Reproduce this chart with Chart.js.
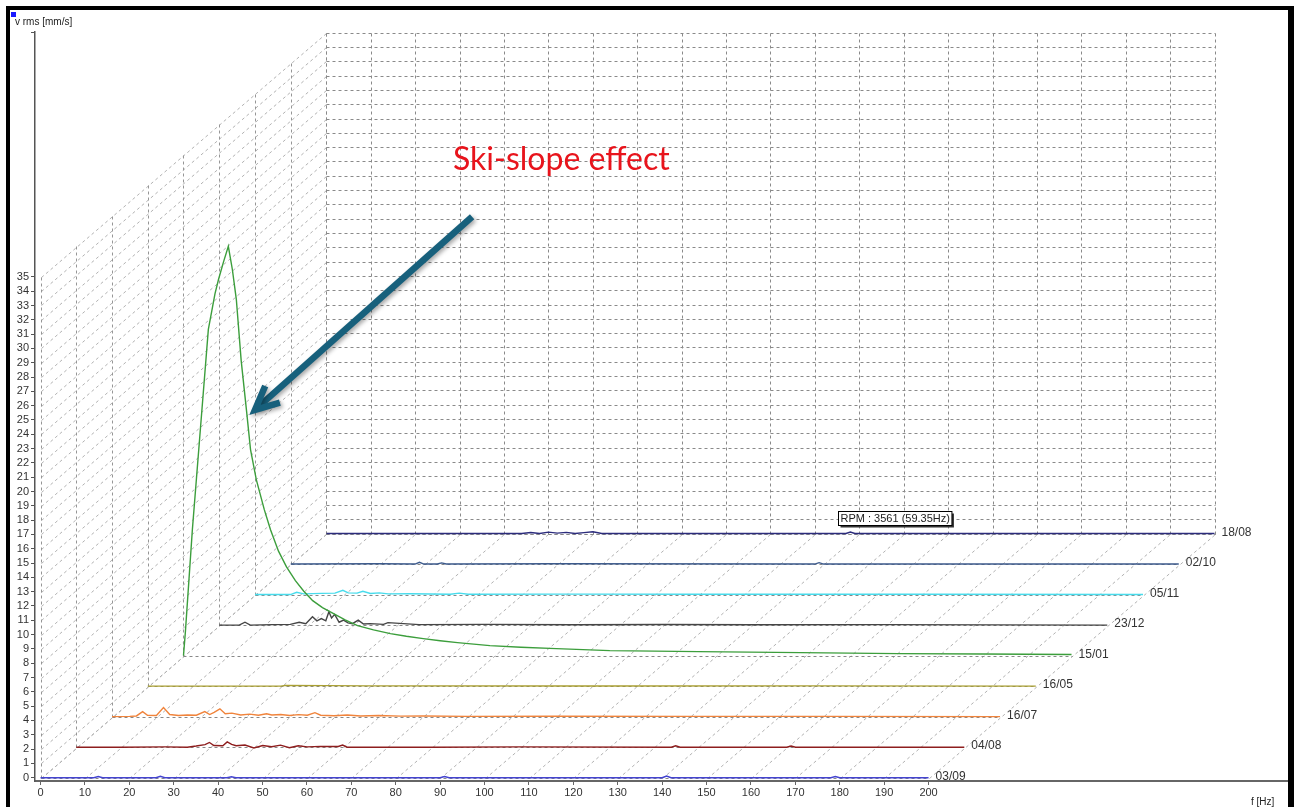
<!DOCTYPE html>
<html>
<head>
<meta charset="utf-8">
<title>Waterfall spectrum - ski-slope effect</title>
<script src="https://cdn.jsdelivr.net/npm/chart.js@4.4.0/dist/chart.umd.min.js"></script>
<style>
  html, body { margin: 0; padding: 0; background: #fff; }
  #wrap { width: 1294px; height: 807px; position: relative; }
</style>
</head>
<body>
<div id="wrap"><canvas id="waterfall" width="1294" height="807"></canvas></div>
<script>
// Measurement dates, front row first
const dates = ['03/09', '04/08', '16/07', '16/05', '15/01', '23/12', '05/11', '02/10', '18/08'];

// Axis ticks
const xTicks = [0, 10, 20, 30, 40, 50, 60, 70, 80, 90, 100, 110, 120, 130, 140, 150, 160, 170, 180, 190, 200];
const yTicks = [0, 1, 2, 3, 4, 5, 6, 7, 8, 9, 10, 11, 12, 13, 14, 15, 16, 17, 18, 19, 20,
                21, 22, 23, 24, 25, 26, 27, 28, 29, 30, 31, 32, 33, 34, 35];

// Spectra: frequency [Hz] / velocity rms [mm/s]
const freq0309 = [0, 12, 13, 14, 26, 27, 28, 42, 43, 44, 90, 91, 92, 140, 141, 142, 178, 179, 180, 200];
const vel0309  = [0, 0, 0.08, 0, 0, 0.1, 0, 0, 0.07, 0, 0, 0.08, 0, 0, 0.12, 0, 0, 0.08, 0, 0];

const freq0408 = [0, 10, 20, 25, 27, 29, 30, 31, 33, 34, 35, 36, 38, 40, 42, 44, 46, 48, 50, 52, 55, 59, 60, 61, 80, 100, 134, 135, 136, 160, 161, 162, 200];
const vel0408  = [0, 0, 0.02, 0, 0.08, 0.18, 0.33, 0.12, 0.1, 0.37, 0.2, 0.1, 0.15, -0.05, 0.12, 0.03, 0.14, -0.04, 0.1, 0.02, 0.06, 0.05, 0.15, 0, 0, 0.02, 0, 0.1, 0, 0, 0.08, 0, 0];

const freq1607 = [0, 4, 5.5, 6.9, 8, 10, 11.6, 13, 15, 17, 19, 20.9, 22, 23, 24.3, 25.5, 27, 29, 31, 33, 34.8, 36, 38, 40, 42, 44, 45.7, 47, 50, 53, 56, 60, 65, 70, 80, 100, 130, 160, 200];
const vel1607  = [0, 0.02, 0.05, 0.35, 0.1, 0.08, 0.63, 0.15, 0.08, 0.12, 0.1, 0.35, 0.15, 0.3, 0.55, 0.2, 0.25, 0.12, 0.18, 0.1, 0.2, 0.12, 0.15, 0.08, 0.14, 0.1, 0.28, 0.1, 0.06, 0.12, 0.05, 0.08, 0.04, 0.05, 0.02, 0.03, 0.02, 0.02, 0];

const freq1605 = [0, 30, 31, 50, 100, 150, 200];
const vel1605  = [0, 0, 0.05, 0.02, 0.01, 0.02, 0];

const freq1501 = [0, 0.45, 2.0, 3.8, 5.6, 7.1, 7.9, 9.0, 10.1, 11.0, 11.9, 13.0, 14.2, 15.1, 16.4, 18.2, 19.6, 21.4, 23.2, 25.2, 27.1, 29.1, 31.3, 33.8, 36.4, 39.2, 42.8, 46.6, 50.2, 54, 57.8, 61.7, 69, 76, 84, 96, 116, 139, 161, 180, 200];
const vel1501  = [0, 1.75, 8.8, 15.8, 22.8, 25.3, 26.3, 27.5, 28.6, 27.0, 24.9, 20.6, 17.1, 14.4, 12.3, 10.2, 8.8, 7.3, 6.2, 5.24, 4.5, 3.84, 3.35, 2.94, 2.5, 2.1, 1.8, 1.54, 1.35, 1.19, 1.04, 0.91, 0.70, 0.58, 0.49, 0.35, 0.28, 0.21, 0.14, 0.11, 0.08];

const freq2312 = [0, 4.5, 5.8, 7, 12, 16, 18, 19.5, 21, 22, 23, 24, 24.7, 25.3, 26, 27, 28, 29, 30, 31.3, 32.5, 34, 37, 38, 45, 60, 80, 100, 120, 150, 200];
const vel2312  = [0, 0, 0.2, 0, 0.03, 0.05, 0.2, 0.1, 0.58, 0.3, 0.45, 0.3, 0.93, 0.5, 0.75, 0.2, 0.35, 0.15, 0.1, 0.35, 0.08, 0.1, 0.05, 0.17, 0.03, 0.05, 0.02, 0.04, 0.02, 0.03, 0];

const freq0511 = [0, 8, 9.4, 11, 15, 18, 19.8, 21, 23, 24.3, 26, 28, 30, 35, 44, 46, 48, 70, 100, 150, 200];
const vel0511  = [0, 0, 0.16, 0.05, 0.08, 0.1, 0.3, 0.12, 0.1, 0.23, 0.08, 0.12, 0.05, 0.06, 0.02, 0.1, 0.02, 0.03, 0.02, 0.02, 0];

const freq0210 = [0, 20, 28, 29, 30, 33, 34, 35, 60, 118, 119, 120, 200];
const vel0210  = [0, 0.02, 0, 0.12, 0, 0, 0.08, 0, 0.02, 0, 0.1, 0, 0];

const freq1808 = [0, 44, 46, 48, 50, 52, 54, 56, 58, 60, 62, 117, 118, 119, 200];
const vel1808  = [0, 0, 0.07, 0, 0.1, 0.03, 0.08, 0, 0.06, 0.12, 0, 0, 0.1, 0, 0];

const spectra = [
    [freq0309, vel0309], [freq0408, vel0408], [freq1607, vel1607],
    [freq1605, vel1605], [freq1501, vel1501], [freq2312, vel2312],
    [freq0511, vel0511], [freq0210, vel0210], [freq1808, vel1808]
];
const lineColors = ['#4444d0', '#8e1e1e', '#f0843c', '#aaa032', '#3c9e3c', '#454545', '#48dcec', '#3c5a8c', '#2c2c7c'];

// Pseudo-3D depth step between rows, in axis units
const DEPTH_DX = 8.05;   // Hz
const DEPTH_DY = 2.133;  // mm/s
const WALL_TOP = 35;

const datasets = dates.map((d, k) => {
    const [f, v] = spectra[k];
    return {
        label: d,
        data: f.map((fv, i) => ({ x: fv + k * DEPTH_DX, y: v[i] + k * DEPTH_DY })),
        borderColor: lineColors[k],
        borderWidth: 1.4,
        pointRadius: 0,
        tension: 0,
        fill: false
    };
});

// Dashed floor / wall / back plane grid
const waterfallGrid = {
    id: 'waterfallGrid',
    beforeDatasetsDraw(chart) {
        const { ctx, scales: { x, y } } = chart;
        const px = v => Math.round(x.getPixelForValue(v)) + 0.5;
        const py = v => Math.round(y.getPixelForValue(v)) + 0.5;
        const seg = (x1, y1, x2, y2) => { ctx.moveTo(px(x1), py(y1)); ctx.lineTo(px(x2), py(y2)); };
        const back = dates.length - 1;
        const bx = back * DEPTH_DX, by = back * DEPTH_DY;

        ctx.save();
        ctx.lineWidth = 1;
        ctx.setLineDash([3, 3]);

        // floor and left wall diagonals
        ctx.strokeStyle = '#b2b2b2';
        ctx.beginPath();
        xTicks.forEach(f => seg(f, 0, f + bx, by));
        yTicks.forEach(v => seg(0, v, bx, v + by));
        ctx.stroke();

        // left wall verticals, one per row
        ctx.strokeStyle = '#969696';
        ctx.beginPath();
        dates.forEach((d, k) => seg(k * DEPTH_DX, k * DEPTH_DY, k * DEPTH_DX, WALL_TOP + k * DEPTH_DY));
        ctx.stroke();

        // back plane
        ctx.strokeStyle = '#8a8a8a';
        ctx.beginPath();
        xTicks.forEach(f => seg(f + bx, by, f + bx, WALL_TOP + by));
        yTicks.forEach(v => seg(bx, v + by, 200 + bx, v + by));
        ctx.stroke();

        // row baselines
        ctx.strokeStyle = '#888';
        ctx.beginPath();
        dates.forEach((d, k) => seg(k * DEPTH_DX, k * DEPTH_DY, 200 + k * DEPTH_DX, k * DEPTH_DY));
        ctx.stroke();
        ctx.restore();
    },
    afterDatasetsDraw(chart) {
        const { ctx, scales: { x, y } } = chart;
        const px = v => x.getPixelForValue(v);
        const py = v => y.getPixelForValue(v);
        ctx.save();

        // row labels
        ctx.font = '12px "Liberation Sans", Arial, sans-serif';
        ctx.fillStyle = '#333';
        ctx.textBaseline = 'middle';
        ctx.textAlign = 'left';
        dates.forEach((d, k) => {
            ctx.fillText(d, px(200 + k * DEPTH_DX) + 7, py(k * DEPTH_DY) - 1);
        });

        // RPM marker box
        const rpmText = 'RPM : 3561 (59.35Hz)';
        ctx.font = '11px "Liberation Sans", Arial, sans-serif';
        const tw = ctx.measureText(rpmText).width;
        const bxp = Math.round(px(179.6)) + 0.5, byp = Math.round(py(18.64)) + 0.5;
        ctx.fillStyle = '#333';
        ctx.fillRect(bxp + 2, byp + 2, tw + 4, 14);
        ctx.fillStyle = '#fff';
        ctx.fillRect(bxp, byp, tw + 4, 14);
        ctx.strokeStyle = '#000';
        ctx.lineWidth = 1;
        ctx.strokeRect(bxp, byp, tw + 4, 14);
        ctx.fillStyle = '#222';
        ctx.fillText(rpmText, bxp + 2, byp + 7.5);

        // annotation text
        ctx.font = '32px Lato, "Open Sans", sans-serif';
        ctx.fillStyle = '#e8141c';
        ctx.textBaseline = 'alphabetic';
        ctx.fillText('Ski-slope effect', px(92.9), py(42.47));

        // annotation arrow
        const x1 = px(97.2), y1 = py(39.2), x2 = px(48.3), y2 = py(25.7);
        const ang = Math.atan2(y1 - y2, x1 - x2);
        const head = 26, spread = 0.44;
        ctx.shadowColor = 'rgba(0,0,0,0.35)';
        ctx.shadowBlur = 4;
        ctx.shadowOffsetX = 2;
        ctx.shadowOffsetY = 2;
        ctx.strokeStyle = '#17607c';
        ctx.lineWidth = 6.5;
        ctx.lineCap = 'butt';
        ctx.lineJoin = 'miter';
        ctx.beginPath();
        ctx.moveTo(x1, y1);
        ctx.lineTo(x2 + 3 * Math.cos(ang), y2 + 3 * Math.sin(ang));
        ctx.stroke();
        ctx.beginPath();
        ctx.moveTo(x2 + head * Math.cos(ang - spread), y2 + head * Math.sin(ang - spread));
        ctx.lineTo(x2, y2);
        ctx.lineTo(x2 + head * Math.cos(ang + spread), y2 + head * Math.sin(ang + spread));
        ctx.stroke();
        ctx.restore();
    },
    afterDraw(chart) {
        const { ctx } = chart;
        ctx.save();
        // axis titles
        ctx.fillStyle = '#1a1aff';
        ctx.fillRect(11, 12, 5, 5);
        ctx.font = '10px "Liberation Sans", Arial, sans-serif';
        ctx.fillStyle = '#222';
        ctx.textBaseline = 'alphabetic';
        ctx.textAlign = 'left';
        ctx.fillText('v rms [mm/s]', 15, 25);
        ctx.fillText('f [Hz]', 1251, 805);
        // frame
        ctx.fillStyle = '#000';
        ctx.fillRect(6, 6, 1288, 4);
        ctx.fillRect(6, 6, 4, 801);
        ctx.fillRect(1288, 6, 6, 801);
        ctx.restore();
    }
};

const whiteBg = {
    id: 'whiteBg',
    beforeDraw(chart) {
        const { ctx, width, height } = chart;
        ctx.save();
        ctx.fillStyle = '#fff';
        ctx.fillRect(0, 0, width, height);
        ctx.restore();
    }
};

const tickFont = { family: '"Liberation Sans", Arial, sans-serif', size: 11 };

new Chart(document.getElementById('waterfall'), {
    type: 'line',
    data: { datasets },
    options: {
        responsive: false,
        animation: false,
        devicePixelRatio: 1,
        layout: { padding: { top: 32, right: 4, left: 0, bottom: 0 } },
        plugins: { legend: { display: false }, tooltip: { enabled: false } },
        scales: {
            x: {
                type: 'linear',
                min: -1.24,
                max: 281.4,
                afterBuildTicks: s => { s.ticks = xTicks.map(v => ({ value: v })); },
                afterFit: s => { s.height = 26; },
                ticks: { autoSkip: false, maxRotation: 0, padding: 1, color: '#333', font: tickFont },
                grid: { drawOnChartArea: false, drawTicks: true, tickLength: 4, color: '#666' },
                border: { display: true, color: '#666', width: 2 }
            },
            y: {
                type: 'linear',
                min: -0.23,
                max: 52.11,
                afterBuildTicks: s => { s.ticks = yTicks.concat([52.11]).map(v => ({ value: v })); },
                afterFit: s => { s.width = 35; },
                ticks: {
                    autoSkip: false, padding: 2, color: '#333', font: tickFont,
                    callback: v => (yTicks.includes(v) ? v : '')
                },
                grid: { drawOnChartArea: false, drawTicks: true, tickLength: 4, color: '#555' },
                border: { display: true, color: '#555', width: 1.5 }
            }
        }
    },
    plugins: [whiteBg, waterfallGrid]
});
</script>
</body>
</html>
